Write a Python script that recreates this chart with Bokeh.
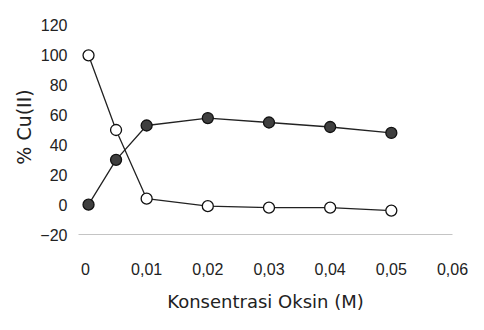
from bokeh.plotting import figure
from bokeh.models import Range1d, FixedTicker
from bokeh.embed import file_html
from bokeh.resources import INLINE

# data
conc = [0.0005, 0.005, 0.01, 0.02, 0.03, 0.04, 0.05]
cu_open = [100, 50, 4, -1, -2, -2, -4]
cu_filled = [0, 30, 53, 58, 55, 52, 48]
x_ticks = [0, 0.01, 0.02, 0.03, 0.04, 0.05, 0.06]
x_tick_labels = ["0", "0,01", "0,02", "0,03", "0,04", "0,05", "0,06"]
y_ticks = [-20, 0, 20, 40, 60, 80, 100, 120]

p = figure(width=468, height=314, output_backend="svg", toolbar_location=None,
           x_range=Range1d(-0.00114, 0.0600), y_range=Range1d(-20, 124),
           min_border_left=78, min_border_right=16, min_border_top=19,
           min_border_bottom=79)
p.outline_line_color = None
p.xgrid.visible = False
p.ygrid.visible = False
p.background_fill_color = "white"
p.border_fill_color = "white"

p.line(conc, cu_filled, line_color="#222222", line_width=1.3)
p.line(conc, cu_open, line_color="#222222", line_width=1.3)
p.scatter(conc, cu_filled, size=11, fill_color="#3f3f3f", line_color="#111111", line_width=1.3)
p.scatter(conc, cu_open, size=11, fill_color="white", line_color="#111111", line_width=1.3)

xa = p.xaxis[0]
xa.ticker = FixedTicker(ticks=x_ticks)
xa.major_label_overrides = {t: l for t, l in zip(x_ticks, x_tick_labels)}
xa.axis_line_color = "#c4c4c4"
xa.axis_line_width = 1
xa.major_tick_line_color = None
xa.minor_tick_line_color = None
xa.major_label_standoff = 22
xa.major_label_text_font = "Liberation Sans"
xa.major_label_text_font_size = "16px"
xa.major_label_text_color = "#222222"
xa.axis_label = "Konsentrasi Oksin (M)"
xa.axis_label_text_font = "DejaVu Sans"
xa.axis_label_text_font_size = "18px"
xa.axis_label_text_font_style = "normal"
xa.axis_label_text_color = "#222222"
xa.axis_label_standoff = 13

ya = p.yaxis[0]
ya.ticker = FixedTicker(ticks=y_ticks)
ya.axis_line_color = None
ya.major_tick_line_color = None
ya.minor_tick_line_color = None
ya.major_label_standoff = 5
ya.major_label_text_font = "Liberation Sans"
ya.major_label_text_font_size = "16px"
ya.major_label_text_color = "#222222"
ya.axis_label = "% Cu(II)"
ya.axis_label_text_font = "DejaVu Sans"
ya.axis_label_text_font_size = "19px"
ya.axis_label_text_font_style = "normal"
ya.axis_label_text_color = "#222222"
ya.axis_label_standoff = 2

open("out.html", "w").write(file_html(p, INLINE))
